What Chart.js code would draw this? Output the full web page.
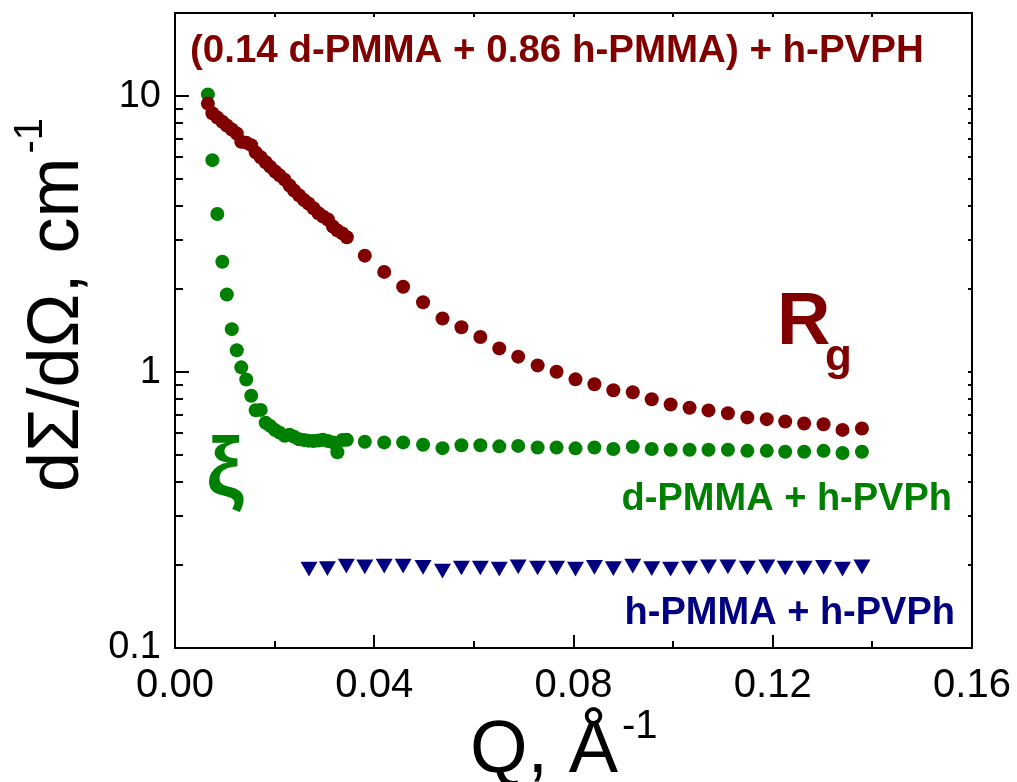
<!DOCTYPE html>
<html>
<head>
<meta charset="utf-8">
<script src="https://cdn.jsdelivr.net/npm/chart.js@4.4.0/dist/chart.umd.min.js"></script>
<style>
  html, body { margin: 0; padding: 0; background: #fff; }
  #wrap { width: 1017px; height: 782px; }
</style>
</head>
<body>
<div id="wrap"><canvas id="sansChart" width="1017" height="782"></canvas></div>
<script>
//------------------------------ DATA ----------------------------------
// Q grid, dense part at low Q (A^-1)
const qDense = [0.0066, 0.0075, 0.0085, 0.0095, 0.0104, 0.0114, 0.0124, 0.0133, 0.0143, 0.0153,
                0.0162, 0.0172, 0.0182, 0.0191, 0.0201, 0.0210, 0.0220, 0.0230, 0.0239, 0.0249,
                0.0259, 0.0268, 0.0278, 0.0288, 0.0297, 0.0307, 0.0317, 0.0326, 0.0336, 0.0345];
// Q grid, coarse part
const qSparse = [0.0381, 0.0420, 0.0458, 0.0498, 0.0537, 0.0575, 0.0613, 0.0651, 0.0689, 0.0728,
                 0.0766, 0.0804, 0.0842, 0.0880, 0.0919, 0.0957, 0.0995, 0.1033, 0.1071, 0.1110,
                 0.1149, 0.1188, 0.1225, 0.1263, 0.1302, 0.1340, 0.1379];
// h-PMMA + h-PVPh Q points
const qBlank = [0.0269, 0.0306, 0.0344, 0.0381, 0.0420, 0.0458, 0.0498, 0.0537, 0.0575, 0.0613,
                0.0651, 0.0689, 0.0728, 0.0766, 0.0804, 0.0842, 0.0880, 0.0919, 0.0957, 0.0995,
                0.1033, 0.1071, 0.1110, 0.1149, 0.1188, 0.1225, 0.1263, 0.1302, 0.1340, 0.1379];

// (0.14 d-PMMA + 0.86 h-PMMA) + h-PVPH  -> Rg
const mixDense = [9.39, 8.66, 8.36, 8.07, 7.82, 7.57, 7.32, 6.83, 6.78, 6.64,
                  6.25, 6.00, 5.76, 5.55, 5.33, 5.16, 4.98, 4.74, 4.55, 4.37,
                  4.20, 4.08, 3.92, 3.76, 3.66, 3.57, 3.37, 3.26, 3.18, 3.08];
const mixSparse = [2.641, 2.306, 2.037, 1.791, 1.564, 1.453, 1.340, 1.218, 1.137, 1.057,
                   1.002, 0.941, 0.903, 0.859, 0.845, 0.797, 0.763, 0.742, 0.726, 0.709,
                   0.685, 0.675, 0.662, 0.651, 0.647, 0.617, 0.624];

// d-PMMA + h-PVPh -> xi
const deutDense = [10.14, 5.86, 3.74, 2.51, 1.91, 1.43, 1.20, 1.04, 0.94, 0.82,
                   0.727, 0.729, 0.655, 0.638, 0.616, 0.603, 0.588, 0.593, 0.583, 0.571,
                   0.567, 0.564, 0.562, 0.565, 0.568, 0.562, 0.556, 0.512, 0.567, 0.568];
const deutSparse = [0.559, 0.556, 0.556, 0.545, 0.530, 0.543, 0.543, 0.538, 0.540, 0.533,
                    0.533, 0.529, 0.533, 0.526, 0.536, 0.526, 0.523, 0.523, 0.523, 0.523,
                    0.518, 0.518, 0.514, 0.514, 0.518, 0.509, 0.514];

// h-PMMA + h-PVPh (flat background)
const blankVals = [0.197, 0.198, 0.202, 0.201, 0.202, 0.202, 0.200, 0.194, 0.199, 0.199,
                   0.197, 0.201, 0.199, 0.199, 0.197, 0.200, 0.198, 0.202, 0.198, 0.197,
                   0.199, 0.201, 0.201, 0.199, 0.201, 0.199, 0.199, 0.200, 0.197, 0.201];

// axis ticks
const xMajor = [0, 0.04, 0.08, 0.12, 0.16];
const xMinor = [0.02, 0.06, 0.10, 0.14];
const xLabels = ['0.00', '0.04', '0.08', '0.12', '0.16'];
const yMajor = [0.1, 1, 10];
const yMinor = [0.2, 0.3, 0.4, 0.5, 0.6, 0.7, 0.8, 0.9, 2, 3, 4, 5, 6, 7, 8, 9];
const yLabels = ['0.1', '1', '10'];

const RED = '#800000';
const GREEN = '#008000';
const BLUE = '#000080';
const FONT = '"Liberation Sans", Arial, sans-serif';

function toPoints(qs, vals) {
    return qs.map((q, i) => ({ x: q, y: vals[i] }));
}

//------------------------------ FRAME, TICKS, TEXT ----------------------------------
const frameAndText = {
    id: 'frameAndText',
    afterDatasetsDraw(chart) {
        const { ctx, chartArea: a, scales: { x, y } } = chart;
        ctx.save();

        // frame
        ctx.strokeStyle = '#000';
        ctx.lineWidth = 2;
        ctx.strokeRect(a.left, a.top, a.right - a.left, a.bottom - a.top);

        // ticks, pointing inward
        ctx.beginPath();
        xMajor.concat(xMinor).forEach(v => {
            const px = Math.round(x.getPixelForValue(v));
            const len = xMajor.includes(v) ? 13 : 7;
            ctx.moveTo(px, a.bottom); ctx.lineTo(px, a.bottom - len);
            ctx.moveTo(px, a.top); ctx.lineTo(px, a.top + 4);
        });
        yMajor.concat(yMinor).forEach(v => {
            const py = Math.round(y.getPixelForValue(v));
            const len = yMajor.includes(v) ? 14 : 8;
            ctx.moveTo(a.left, py); ctx.lineTo(a.left + len, py);
            ctx.moveTo(a.right, py); ctx.lineTo(a.right - 4, py);
        });
        ctx.stroke();

        // tick labels
        ctx.fillStyle = '#000';
        ctx.font = '40px ' + FONT;
        ctx.textAlign = 'center';
        ctx.textBaseline = 'alphabetic';
        xMajor.forEach((v, i) => ctx.fillText(xLabels[i], x.getPixelForValue(v), 697));

        ctx.font = '38px ' + FONT;
        ctx.textAlign = 'right';
        ctx.textBaseline = 'middle';
        yMajor.forEach((v, i) => ctx.fillText(yLabels[i], 161, y.getPixelForValue(v)));

        // x axis title with superscript
        ctx.textAlign = 'left';
        ctx.textBaseline = 'alphabetic';
        ctx.font = '74px ' + FONT;
        const xt = 'Q, \u00C5';
        ctx.fillText(xt, 470, 772);
        const xw = ctx.measureText(xt).width;
        ctx.font = '40px ' + FONT;
        ctx.fillText('-1', 470 + xw + 4, 738);

        // y axis title, rotated
        ctx.save();
        ctx.translate(78, 492);
        ctx.rotate(-Math.PI / 2);
        ctx.font = '72px ' + FONT;
        const yt = 'd\u03A3/d\u03A9, cm';
        ctx.fillText(yt, 0, 0);
        const yw = ctx.measureText(yt).width;
        ctx.font = '40px ' + FONT;
        ctx.fillText('-1', yw + 4, -36);
        ctx.restore();

        // series annotations
        ctx.font = 'bold 38.5px ' + FONT;
        ctx.fillStyle = RED;
        ctx.fillText('(0.14 d-PMMA + 0.86 h-PMMA) + h-PVPH', 190, 62);

        ctx.font = 'bold 74px ' + FONT;
        ctx.fillText('R', 777, 344);
        ctx.font = 'bold 44px ' + FONT;
        ctx.fillText('g', 825, 370);

        ctx.textAlign = 'right';
        ctx.font = 'bold 38px ' + FONT;
        ctx.fillStyle = GREEN;
        ctx.fillText('d-PMMA + h-PVPh', 952, 510);
        ctx.fillStyle = BLUE;
        ctx.fillText('h-PMMA + h-PVPh', 955, 624);

        ctx.textAlign = 'center';
        ctx.fillStyle = GREEN;
        ctx.font = 'bold 84px ' + FONT;
        ctx.fillText('\u03BE', 225, 496);

        ctx.restore();
    }
};

//------------------------------ CHART ----------------------------------
const ctxSans = document.getElementById('sansChart').getContext('2d');
new Chart(ctxSans, {
    type: 'scatter',
    data: {
        datasets: [
            {
                label: '(0.14 d-PMMA + 0.86 h-PMMA) + h-PVPH',
                data: toPoints(qDense.concat(qSparse), mixDense.concat(mixSparse)),
                backgroundColor: RED,
                pointRadius: 7,
                pointBorderWidth: 0,
                pointStyle: 'circle'
            },
            {
                label: 'd-PMMA + h-PVPh',
                data: toPoints(qDense.concat(qSparse), deutDense.concat(deutSparse)),
                backgroundColor: GREEN,
                pointRadius: 7,
                pointBorderWidth: 0,
                pointStyle: 'circle'
            },
            {
                label: 'h-PMMA + h-PVPh',
                data: toPoints(qBlank, blankVals),
                backgroundColor: BLUE,
                pointRadius: 9.8,
                pointBorderWidth: 0,
                pointStyle: 'triangle',
                rotation: 180
            }
        ]
    },
    options: {
        responsive: false,
        animation: false,
        devicePixelRatio: 1,
        layout: { padding: { left: 175, top: 13, right: 45, bottom: 134 } },
        plugins: { legend: { display: false }, tooltip: { enabled: false } },
        scales: {
            x: { type: 'linear', min: 0, max: 0.16, display: false },
            y: { type: 'logarithmic', min: 0.1, max: 20, display: false }
        }
    },
    plugins: [frameAndText]
});
</script>
</body>
</html>
